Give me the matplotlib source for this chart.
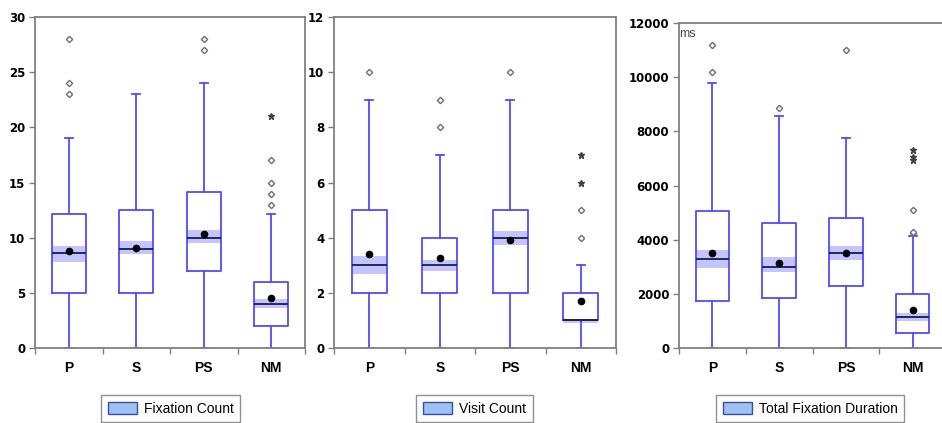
import matplotlib
matplotlib.use("Agg")
import matplotlib.pyplot as plt
from matplotlib.patches import Patch
import numpy as np

categories = ["P", "S", "PS", "NM"]

# Panel 1: Fixation Count
fc_whislo = [0, 0, 0, 0]
fc_q1 = [5, 5, 7, 2]
fc_med = [8.6, 9.0, 10.0, 4.0]
fc_mean = [8.8, 9.1, 10.3, 4.5]
fc_q3 = [12.1, 12.5, 14.1, 6.0]
fc_whishi = [19, 23, 24, 12.1]
fc_cilo = [7.8, 8.5, 9.5, 3.6]
fc_cihi = [9.2, 9.7, 10.7, 4.4]
fc_out = [[23, 24, 28], [], [27, 28], [13, 14, 15, 17]]
fc_far = [[], [], [], [21]]

# Panel 2: Visit Count
vc_whislo = [0, 0, 0, 0]
vc_q1 = [2, 2, 2, 1]
vc_med = [3, 3, 4, 1]
vc_mean = [3.4, 3.25, 3.9, 1.7]
vc_q3 = [5, 4, 5, 2]
vc_whishi = [9, 7, 9, 3]
vc_cilo = [2.7, 2.8, 3.75, 0.9]
vc_cihi = [3.35, 3.2, 4.25, 1.05]
vc_out = [[10], [8, 9], [10], [4, 5]]
vc_far = [[], [], [], [6, 7]]

# Panel 3: Total Fixation Duration (ms)
td_whislo = [0, 0, 0, 0]
td_q1 = [1750, 1850, 2300, 550]
td_med = [3300, 3000, 3500, 1150]
td_mean = [3500, 3150, 3500, 1400]
td_q3 = [5050, 4600, 4800, 2000]
td_whishi = [9800, 8550, 7750, 4150]
td_cilo = [2950, 2800, 3250, 1000]
td_cihi = [3600, 3350, 3750, 1300]
td_out = [[10200, 11200], [8850], [11000], [4250, 4300, 5100]]
td_far = [[], [], [], [6950, 7050, 7300]]

legend_labels = ["Fixation Count", "Visit Count", "Total Fixation Duration"]

BLUE = "#4d4dff"
GRAY = "#808080"
FONT = "Liberation Sans"

fig = plt.figure(figsize=(9.42, 4.23), dpi=100)

axes_pos = [
    [35 / 942, 1 - 348 / 423, 270 / 942, 331 / 423],
    [334 / 942, 1 - 348 / 423, 282 / 942, 331 / 423],
    [679 / 942, 1 - 348 / 423, 267 / 942, 325 / 423],
]

panels = [
    (fc_whislo, fc_q1, fc_med, fc_mean, fc_q3, fc_whishi, fc_cilo, fc_cihi, fc_out, fc_far, 30, 5),
    (vc_whislo, vc_q1, vc_med, vc_mean, vc_q3, vc_whishi, vc_cilo, vc_cihi, vc_out, vc_far, 12, 2),
    (td_whislo, td_q1, td_med, td_mean, td_q3, td_whishi, td_cilo, td_cihi, td_out, td_far, 12000, 2000),
]

positions = np.arange(1, len(categories) + 1)

for i, (pos, p) in enumerate(zip(axes_pos, panels)):
    wlo, q1, med, mean, q3, whi, clo, chi, outs, fars, ymax, ystep = p
    ax = fig.add_axes(pos)
    # CI band
    ax.bar(positions, np.array(chi) - np.array(clo), bottom=clo, width=0.5,
           color="#c4c4ff", edgecolor="none", zorder=1)
    stats = []
    for k in range(len(categories)):
        stats.append(dict(med=med[k], q1=q1[k], q3=q3[k], whislo=wlo[k], whishi=whi[k],
                          mean=mean[k], fliers=outs[k], label=categories[k]))
    ax.bxp(stats, positions=positions, widths=0.5, showmeans=True, patch_artist=False,
           boxprops=dict(color=BLUE, linewidth=1.3),
           whiskerprops=dict(color=BLUE, linewidth=1.3),
           capprops=dict(color=BLUE, linewidth=1.3),
           capwidths=0.12,
           medianprops=dict(color="#1a1a4d", linewidth=1.3),
           meanprops=dict(marker="o", markerfacecolor="black", markeredgecolor="black", markersize=4.5),
           flierprops=dict(marker="D", markerfacecolor="white", markeredgecolor="#707070",
                           markersize=3.2, markeredgewidth=1.0),
           manage_ticks=False, zorder=2)
    for k in range(len(categories)):
        if fars[k]:
            ax.plot([positions[k]] * len(fars[k]), fars[k], linestyle="none", marker="*",
                    color="#404040", markersize=4.5, zorder=3)
    ax.set_xlim(0.5, len(categories) + 0.5)
    ax.set_ylim(0, ymax)
    ax.set_yticks(np.arange(0, ymax + ystep / 2, ystep))
    ax.set_xticks(positions)
    ax.set_xticklabels(categories)
    ax.set_xticks(np.arange(0.5, len(categories) + 1, 1.0), minor=True)
    ax.tick_params(axis="x", which="major", length=0, pad=9)
    ax.tick_params(axis="x", which="minor", length=4, color=GRAY, width=1, direction="out")
    ax.tick_params(axis="y", which="major", length=4, color=GRAY, width=1, pad=3)
    for lbl in ax.get_xticklabels():
        lbl.set_fontfamily(FONT)
        lbl.set_fontweight("bold")
        lbl.set_fontsize(10)
    for lbl in ax.get_yticklabels():
        lbl.set_fontfamily("DejaVu Sans")
        lbl.set_fontweight("bold")
        lbl.set_fontsize(8.5)
    for s in ax.spines.values():
        s.set_color(GRAY)
        s.set_linewidth(1.3)
    if i == 2:
        ax.text(0.0, 0.985, "ms", transform=ax.transAxes, ha="left", va="top",
                fontsize=9, color="#504060", family=FONT)

legend_centers = [(170.5 / 942, 1 - 408.5 / 423), (474.5 / 942, 1 - 408.5 / 423), (810 / 942, 1 - 408.5 / 423)]
for lab, c in zip(legend_labels, legend_centers):
    h = Patch(facecolor="#a0c0f4", edgecolor="#3050a0", linewidth=1.0)
    leg = fig.legend([h], [lab], loc="center", bbox_to_anchor=c, fancybox=False,
                     edgecolor="#909090", framealpha=1, handlelength=2.1, handleheight=1.0,
                     handletextpad=0.5, borderpad=0.5, borderaxespad=0,
                     prop=dict(family=FONT, size=10))
    leg.get_frame().set_linewidth(1.0)

fig.savefig("out.png", dpi=100)
